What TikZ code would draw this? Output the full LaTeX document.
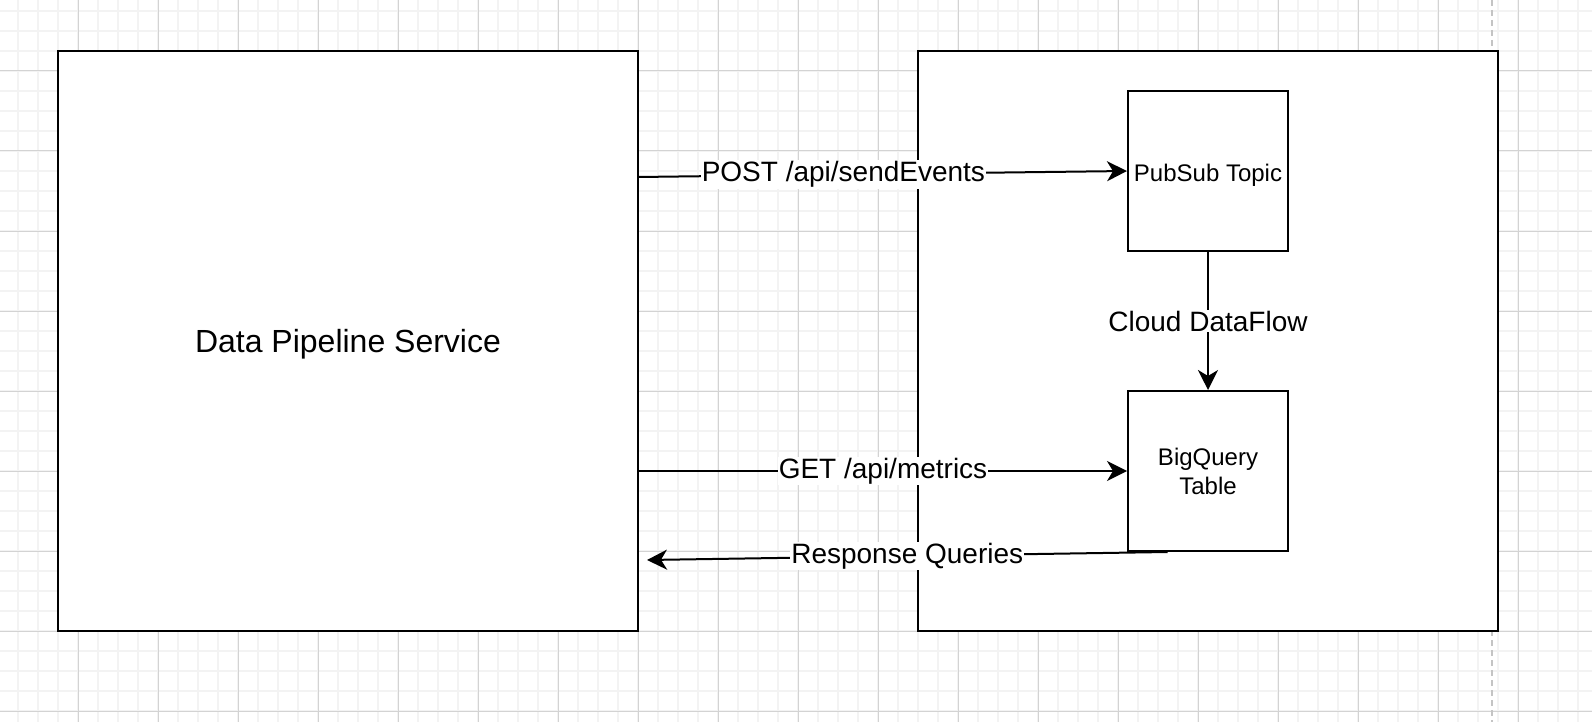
\documentclass[tikz,border=0pt]{standalone}
\usepackage{fontspec}
\setmainfont{Liberation Sans}
\usetikzlibrary{arrows.meta,calc,positioning}
\definecolor{gridminor}{HTML}{F3F3F3}
\definecolor{gridmajor}{HTML}{D3D3D3}
\definecolor{pagedash}{HTML}{C4C4C4}

\begin{document}
\begin{tikzpicture}[x=1pt,y=-1pt,
		block/.style={draw,line width=2pt,fill=white,minimum size=#1,inner sep=0pt},
		flow/.style={line width=2pt,-{Stealth[length=20pt,width=20pt,inset=6pt]}},
		edgelabel/.style={fill=white,inner sep=1pt,font=\fontsize{28}{34}\selectfont}]
	\useasboundingbox (0,0) rectangle (1592,722);
	\foreach \x in {18,38,...,1590} \draw[gridminor,line width=2pt] (\x,0) -- (\x,722);
	\foreach \y in {11,31,...,720} \draw[gridminor,line width=2pt] (0,\y) -- (1592,\y);
	\foreach \x in {78,158,...,1518} \draw[gridmajor,line width=1pt] (\x,0) -- (\x,722);
	\foreach \y in {71,151,...,711} \draw[gridmajor,line width=1pt] (0,\y) -- (1592,\y);
	\draw[pagedash,line width=2pt,dash pattern=on 6pt off 4pt] (1492,0) -- (1492,722);
	\node[block=580pt,text height=25pt,text depth=2.4pt,font=\fontsize{32}{38}\selectfont] (svc) at (348,341) {Data Pipeline Service};
	\node[block=580pt] (gcp) at (1208,341) {};
	\node[block=160pt,text height=23pt,text depth=2.5pt,font=\fontsize{24}{29}\selectfont] (topic) at (1208,171) {PubSub Topic};
	\node[block=160pt,font=\fontsize{24}{29}\selectfont,align=center,below=138pt of topic] (bq) {BigQuery\\Table};
	\coordinate (postStart) at (638,177);
	\coordinate (respEnd) at (647,560);
	\draw[flow] (postStart) -- node[edgelabel,pos=0.42] {POST /api/sendEvents} (topic.west);
	\draw[flow] (topic) -- node[edgelabel] {Cloud DataFlow} (bq);
	\draw[flow] (svc.east |- bq.west) -- node[edgelabel] {GET /api/metrics} (bq.west);
	\draw[flow] ($(bq.south west)!0.25!(bq.south east)$) -- node[edgelabel] {Response Queries} (respEnd);
\end{tikzpicture}
\end{document}
